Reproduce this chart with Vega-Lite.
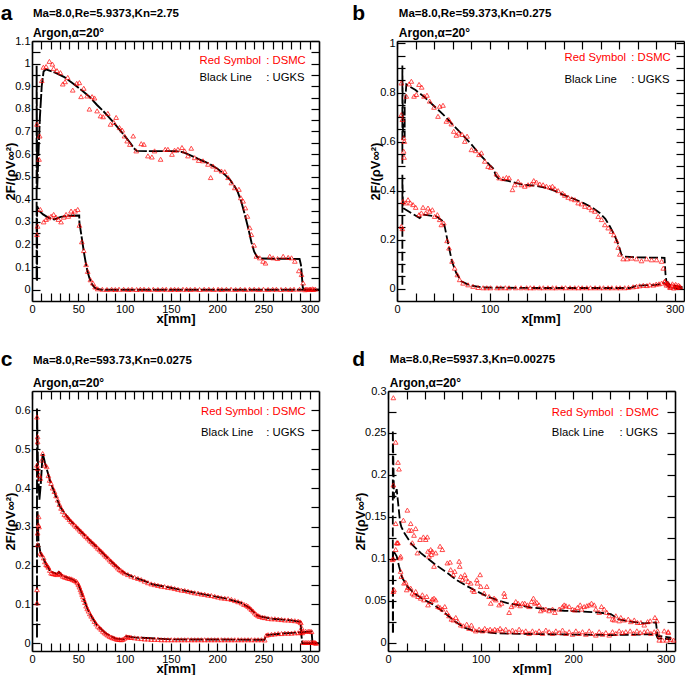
{
"$schema":"https://vega.github.io/schema/vega-lite/v6.json",
"background":"white",
"padding":{"left":0,"top":2,"right":0,"bottom":0},
"config":{
 "view":{"stroke":null},
 "font":"Liberation Sans",
 "axis":{"domainColor":"black","domainWidth":1.6,"tickColor":"black","tickWidth":1.2,"tickSize":-8,"labelPadding":10,"labelFont":"Liberation Sans","labelFontSize":11,"labelColor":"black","labelFlush":false,"labelOverlap":false,"grid":false,"titleFont":"Liberation Sans","titleFontSize":13,"titleFontWeight":"bold","titleColor":"black","titlePadding":-2},
 "axisLeft":{"labelPadding":10,"titlePadding":-3},
 "text":{"font":"Liberation Sans"}
},
"datasets":{
"aDu":[{"x":5.4,"y":0.732},{"x":8.3,"y":0.68},{"x":7.6,"y":0.577},{"x":10.5,"y":0.925},{"x":12.3,"y":0.984},{"x":15.2,"y":0.987},{"x":18.8,"y":1.01},{"x":22,"y":0.998},{"x":23.4,"y":0.979},{"x":27,"y":0.969},{"x":30.7,"y":0.96},{"x":33.2,"y":0.91},{"x":35.7,"y":0.92},{"x":38.6,"y":0.939},{"x":44,"y":0.883},{"x":48.3,"y":0.913},{"x":51.2,"y":0.916},{"x":53,"y":0.854},{"x":55.9,"y":0.891},{"x":59.5,"y":0.857},{"x":62,"y":0.799},{"x":64.9,"y":0.854},{"x":67.5,"y":0.848},{"x":70.3,"y":0.791},{"x":74,"y":0.769},{"x":76.8,"y":0.765},{"x":81.9,"y":0.78},{"x":84.8,"y":0.732},{"x":88.4,"y":0.74},{"x":90.9,"y":0.762},{"x":94.5,"y":0.717},{"x":97.4,"y":0.706},{"x":99.9,"y":0.68},{"x":102.8,"y":0.658},{"x":105.7,"y":0.643},{"x":109.3,"y":0.68},{"x":112.6,"y":0.614},{"x":118,"y":0.646},{"x":120.9,"y":0.643},{"x":125.2,"y":0.592},{"x":129.5,"y":0.587},{"x":132.4,"y":0.614},{"x":138.9,"y":0.577},{"x":143.9,"y":0.621},{"x":146.8,"y":0.621},{"x":151.2,"y":0.599},{"x":154,"y":0.617},{"x":157.6,"y":0.621},{"x":162,"y":0.629},{"x":164.9,"y":0.614},{"x":168.5,"y":0.592},{"x":172,"y":0.626},{"x":175.7,"y":0.584},{"x":180,"y":0.572},{"x":184.7,"y":0.57},{"x":190.1,"y":0.555},{"x":193,"y":0.496},{"x":195.5,"y":0.547},{"x":199.1,"y":0.533},{"x":204.6,"y":0.525},{"x":208.2,"y":0.522},{"x":211.8,"y":0.496},{"x":215.4,"y":0.473},{"x":219,"y":0.451},{"x":223.5,"y":0.444},{"x":225.5,"y":0.407},{"x":228,"y":0.392},{"x":230.5,"y":0.362},{"x":232.7,"y":0.325},{"x":235.2,"y":0.274},{"x":237,"y":0.244},{"x":239.9,"y":0.197},{"x":242.4,"y":0.148},{"x":246,"y":0.141},{"x":249.6,"y":0.126},{"x":252.2,"y":0.118},{"x":256.8,"y":0.148},{"x":260.5,"y":0.141},{"x":265.2,"y":0.138},{"x":271.3,"y":0.148},{"x":276.7,"y":0.143},{"x":280.3,"y":0.141},{"x":283.9,"y":0.126},{"x":288.2,"y":0.084},{"x":291.1,"y":0.067},{"x":292.9,"y":0.03},{"x":294.7,"y":0.0},{"x":298,"y":0.002},{"x":301,"y":0.003},{"x":304,"y":0.001}],
"aDl":[{"x":5.4,"y":0.244},{"x":6.1,"y":0.281},{"x":9,"y":0.355},{"x":12.6,"y":0.3},{"x":15.2,"y":0.311},{"x":17.7,"y":0.318},{"x":20.6,"y":0.325},{"x":23.4,"y":0.333},{"x":26,"y":0.321},{"x":28.5,"y":0.311},{"x":31.4,"y":0.3},{"x":34.3,"y":0.321},{"x":36.8,"y":0.333},{"x":39.3,"y":0.325},{"x":42.2,"y":0.348},{"x":44,"y":0.333},{"x":46.5,"y":0.348},{"x":49.4,"y":0.355},{"x":51.2,"y":0.285},{"x":53.8,"y":0.212},{"x":55.9,"y":0.173},{"x":58.4,"y":0.111},{"x":60.2,"y":0.081},{"x":63.1,"y":0.044},{"x":65.7,"y":0.03},{"x":68.2,"y":0.012},{"x":71,"y":0.004},{"x":76,"y":0.002},{"x":81,"y":0.001},{"x":86,"y":0.002},{"x":90,"y":0.001},{"x":94,"y":0.002},{"x":99,"y":0.002},{"x":104,"y":0.001},{"x":108,"y":0.002},{"x":113,"y":0.001},{"x":117,"y":0.002},{"x":121,"y":0.002},{"x":126,"y":0.001},{"x":131,"y":0.002},{"x":136,"y":0.001},{"x":141,"y":0.002},{"x":145,"y":0.002},{"x":150,"y":0.001},{"x":154,"y":0.002},{"x":158,"y":0.001},{"x":163,"y":0.002},{"x":167,"y":0.002},{"x":171,"y":0.001},{"x":176,"y":0.002},{"x":181,"y":0.001},{"x":186,"y":0.002},{"x":191,"y":0.002},{"x":196,"y":0.001},{"x":201,"y":0.002},{"x":205,"y":0.001},{"x":210,"y":0.002},{"x":215,"y":0.002},{"x":220,"y":0.001},{"x":225,"y":0.002},{"x":230,"y":0.001},{"x":235,"y":0.002},{"x":240,"y":0.002},{"x":245,"y":0.001},{"x":250,"y":0.002},{"x":255,"y":0.001},{"x":260,"y":0.002},{"x":264,"y":0.002},{"x":269,"y":0.001},{"x":274,"y":0.002},{"x":279,"y":0.001},{"x":283,"y":0.002},{"x":289,"y":0.002},{"x":296,"y":0.003},{"x":300,"y":0.002},{"x":303,"y":0.004},{"x":306,"y":0.003}],
"aUu":[{"x":5,"y":0.044},{"x":5,"y":0.99},{"x":5.6,"y":0.45},{"x":6.8,"y":0.58},{"x":8.5,"y":0.76},{"x":10.5,"y":0.9},{"x":12.5,"y":0.965},{"x":15,"y":0.975},{"x":25,"y":0.96},{"x":35,"y":0.94},{"x":45,"y":0.91},{"x":55,"y":0.878},{"x":63,"y":0.85},{"x":70,"y":0.818},{"x":77,"y":0.79},{"x":82,"y":0.768},{"x":88,"y":0.74},{"x":95,"y":0.706},{"x":101,"y":0.676},{"x":106,"y":0.65},{"x":110,"y":0.626},{"x":113,"y":0.614},{"x":125,"y":0.613},{"x":140,"y":0.613},{"x":155,"y":0.613},{"x":163,"y":0.608},{"x":170,"y":0.596},{"x":180,"y":0.578},{"x":190,"y":0.56},{"x":200,"y":0.536},{"x":208,"y":0.51},{"x":214,"y":0.486},{"x":219,"y":0.456},{"x":222,"y":0.435},{"x":226,"y":0.39},{"x":230,"y":0.33},{"x":234,"y":0.265},{"x":237,"y":0.21},{"x":240,"y":0.168},{"x":243,"y":0.146},{"x":247,"y":0.138},{"x":260,"y":0.137},{"x":275,"y":0.137},{"x":289,"y":0.136},{"x":290.5,"y":0.11},{"x":291.5,"y":0.06},{"x":292.5,"y":0.01},{"x":294,"y":0},{"x":310,"y":0}],
"aUl":[{"x":5.5,"y":0.04},{"x":5.5,"y":0.37},{"x":7.9,"y":0.348},{"x":12,"y":0.333},{"x":18,"y":0.318},{"x":24,"y":0.311},{"x":31,"y":0.322},{"x":40,"y":0.327},{"x":51,"y":0.328},{"x":51.2,"y":0.296},{"x":53,"y":0.25},{"x":54.8,"y":0.2},{"x":56.5,"y":0.155},{"x":58.4,"y":0.111},{"x":60,"y":0.08},{"x":62,"y":0.052},{"x":64,"y":0.03},{"x":65.7,"y":0.019},{"x":68,"y":0.008},{"x":71,"y":0.003},{"x":75,"y":0},{"x":310,"y":0}],
"bDu":[{"x":4.7,"y":0.839},{"x":4.7,"y":0.71},{"x":5.8,"y":0.69},{"x":7.2,"y":0.615},{"x":7.9,"y":0.601},{"x":7.2,"y":0.561},{"x":7.6,"y":0.536},{"x":10.1,"y":0.785},{"x":13,"y":0.835},{"x":15.5,"y":0.846},{"x":18.4,"y":0.785},{"x":20.9,"y":0.792},{"x":23.8,"y":0.833},{"x":26.7,"y":0.822},{"x":29.2,"y":0.785},{"x":32.4,"y":0.789},{"x":35.3,"y":0.765},{"x":40,"y":0.74},{"x":44.3,"y":0.703},{"x":46.1,"y":0.744},{"x":49.7,"y":0.748},{"x":53.3,"y":0.683},{"x":55.9,"y":0.69},{"x":58.7,"y":0.672},{"x":61.3,"y":0.642},{"x":64.1,"y":0.626},{"x":66.7,"y":0.635},{"x":70.3,"y":0.629},{"x":73.2,"y":0.601},{"x":75.7,"y":0.622},{"x":80.4,"y":0.567},{"x":85,"y":0.563},{"x":88.6,"y":0.547},{"x":91.2,"y":0.554},{"x":94.8,"y":0.52},{"x":98.4,"y":0.499},{"x":101.3,"y":0.495},{"x":107.4,"y":0.468},{"x":110.3,"y":0.452},{"x":114.6,"y":0.449},{"x":118.2,"y":0.454},{"x":121.1,"y":0.452},{"x":124.7,"y":0.404},{"x":127.2,"y":0.424},{"x":130.8,"y":0.438},{"x":134.4,"y":0.424},{"x":138,"y":0.418},{"x":141.6,"y":0.424},{"x":145.2,"y":0.427},{"x":147.7,"y":0.441},{"x":150.6,"y":0.435},{"x":154.2,"y":0.427},{"x":157.8,"y":0.424},{"x":161.4,"y":0.418},{"x":165,"y":0.414},{"x":167.9,"y":0.418},{"x":170.5,"y":0.408},{"x":174.1,"y":0.4},{"x":178.7,"y":0.39},{"x":181.3,"y":0.381},{"x":184.9,"y":0.373},{"x":188.5,"y":0.367},{"x":192.1,"y":0.363},{"x":195.7,"y":0.35},{"x":199.3,"y":0.346},{"x":202.9,"y":0.336},{"x":207.6,"y":0.332},{"x":210.1,"y":0.322},{"x":213.7,"y":0.316},{"x":217.3,"y":0.295},{"x":220.9,"y":0.282},{"x":224.5,"y":0.261},{"x":228.1,"y":0.248},{"x":231.7,"y":0.234},{"x":234.2,"y":0.22},{"x":237.1,"y":0.196},{"x":238.9,"y":0.169},{"x":240.7,"y":0.141},{"x":244.3,"y":0.122},{"x":248.6,"y":0.122},{"x":253.3,"y":0.125},{"x":258.7,"y":0.122},{"x":264.1,"y":0.114},{"x":269.5,"y":0.122},{"x":275,"y":0.118},{"x":280.4,"y":0.118},{"x":285.8,"y":0.112},{"x":287.6,"y":0.084},{"x":289.4,"y":0.03},{"x":291.2,"y":0.023},{"x":293,"y":0.015},{"x":295,"y":0.008},{"x":297.5,"y":0.02},{"x":300,"y":0.012},{"x":302,"y":0.005},{"x":304,"y":0.015},{"x":306,"y":0.008}],
"bDl":[{"x":4.7,"y":0.254},{"x":5.8,"y":0.245},{"x":6.5,"y":0.356},{"x":9.4,"y":0.35},{"x":11.9,"y":0.363},{"x":14.4,"y":0.35},{"x":17.3,"y":0.343},{"x":20.2,"y":0.332},{"x":23.8,"y":0.302},{"x":26.3,"y":0.309},{"x":28.1,"y":0.332},{"x":31,"y":0.309},{"x":33.5,"y":0.329},{"x":35.3,"y":0.316},{"x":38.2,"y":0.322},{"x":40.7,"y":0.295},{"x":43.6,"y":0.302},{"x":46.1,"y":0.282},{"x":47.9,"y":0.261},{"x":50.5,"y":0.268},{"x":54.1,"y":0.196},{"x":56.2,"y":0.166},{"x":59.5,"y":0.112},{"x":62.3,"y":0.084},{"x":65.2,"y":0.057},{"x":67.7,"y":0.037},{"x":71.4,"y":0.023},{"x":76.8,"y":0.016},{"x":82.2,"y":0.01},{"x":87.6,"y":0.005},{"x":93,"y":0.004},{"x":97,"y":0.004},{"x":101,"y":0.004},{"x":108,"y":0.004},{"x":112,"y":0.004},{"x":117,"y":0.004},{"x":121,"y":0.004},{"x":128,"y":0.004},{"x":134,"y":0.004},{"x":140,"y":0.004},{"x":144,"y":0.004},{"x":148,"y":0.004},{"x":154,"y":0.004},{"x":158,"y":0.004},{"x":163,"y":0.004},{"x":168,"y":0.004},{"x":172,"y":0.004},{"x":178,"y":0.004},{"x":182,"y":0.004},{"x":187,"y":0.004},{"x":192,"y":0.004},{"x":196,"y":0.004},{"x":200,"y":0.004},{"x":205,"y":0.004},{"x":209,"y":0.004},{"x":214,"y":0.004},{"x":219,"y":0.004},{"x":223,"y":0.004},{"x":228,"y":0.004},{"x":232,"y":0.004},{"x":237,"y":0.004},{"x":241,"y":0.004},{"x":246,"y":0.004},{"x":250,"y":0.005},{"x":255,"y":0.008},{"x":258.7,"y":0.01},{"x":262,"y":0.012},{"x":266,"y":0.014},{"x":270,"y":0.013},{"x":273,"y":0.016},{"x":277,"y":0.015},{"x":280,"y":0.019},{"x":283,"y":0.02},{"x":285.8,"y":0.023},{"x":289,"y":0.03},{"x":291,"y":0.015},{"x":293,"y":0.022},{"x":295,"y":0.005},{"x":297,"y":0.012},{"x":299,"y":0.003},{"x":301,"y":0.018},{"x":303,"y":0.006},{"x":305,"y":0.01}],
"bUu":[{"x":5.8,"y":0.51},{"x":5.8,"y":0.91},{"x":6.5,"y":0.62},{"x":8.3,"y":0.62},{"x":8.3,"y":0.74},{"x":10.1,"y":0.833},{"x":20,"y":0.81},{"x":30,"y":0.78},{"x":40,"y":0.745},{"x":50,"y":0.71},{"x":60,"y":0.67},{"x":70,"y":0.63},{"x":80,"y":0.59},{"x":90,"y":0.545},{"x":100,"y":0.505},{"x":104,"y":0.49},{"x":107,"y":0.46},{"x":111,"y":0.445},{"x":120,"y":0.44},{"x":136,"y":0.424},{"x":150,"y":0.42},{"x":161,"y":0.411},{"x":170,"y":0.4},{"x":179,"y":0.384},{"x":190,"y":0.368},{"x":201,"y":0.35},{"x":210,"y":0.333},{"x":219,"y":0.309},{"x":225,"y":0.285},{"x":230,"y":0.254},{"x":234,"y":0.225},{"x":237,"y":0.2},{"x":240,"y":0.17},{"x":242.5,"y":0.139},{"x":246,"y":0.131},{"x":260,"y":0.128},{"x":289,"y":0.126},{"x":290,"y":0.06},{"x":291,"y":0.03},{"x":295,"y":0.015},{"x":310,"y":0.005}],
"bUl":[{"x":5.8,"y":0.016},{"x":5.8,"y":0.465},{"x":6.5,"y":0.329},{"x":24.5,"y":0.288},{"x":28,"y":0.302},{"x":42.5,"y":0.295},{"x":49.7,"y":0.275},{"x":51.5,"y":0.254},{"x":55.1,"y":0.186},{"x":59.5,"y":0.11},{"x":64,"y":0.064},{"x":69.5,"y":0.03},{"x":78.6,"y":0.014},{"x":93,"y":0.005},{"x":150,"y":0.003},{"x":251.5,"y":0.003},{"x":258.7,"y":0.012},{"x":280,"y":0.016},{"x":289,"y":0.023},{"x":294.8,"y":0.005},{"x":310,"y":0}],
"cDu":[{"x":5.4,"y":0.583},{"x":6.1,"y":0.532},{"x":6.1,"y":0.519},{"x":5.4,"y":0.459},{"x":6.1,"y":0.45},{"x":7.9,"y":0.433},{"x":9,"y":0.425},{"x":10.5,"y":0.472},{"x":11.5,"y":0.489},{"x":14.1,"y":0.459},{"x":15.9,"y":0.455},{"x":17.7,"y":0.432},{"x":19,"y":0.42},{"x":20.6,"y":0.412},{"x":22.4,"y":0.4},{"x":24.2,"y":0.391},{"x":26,"y":0.38},{"x":27.8,"y":0.369},{"x":29.6,"y":0.358},{"x":31.4,"y":0.348},{"x":33.2,"y":0.34},{"x":35,"y":0.332},{"x":36.8,"y":0.328},{"x":38.6,"y":0.324},{"x":40.4,"y":0.319},{"x":42.2,"y":0.314},{"x":44,"y":0.31},{"x":45.8,"y":0.305},{"x":47.6,"y":0.301},{"x":49.4,"y":0.297},{"x":51.2,"y":0.292},{"x":53,"y":0.288},{"x":54.8,"y":0.284},{"x":56.6,"y":0.279},{"x":58.4,"y":0.275},{"x":60.2,"y":0.271},{"x":62,"y":0.266},{"x":63.9,"y":0.262},{"x":65.7,"y":0.258},{"x":67.5,"y":0.254},{"x":69.3,"y":0.25},{"x":71.1,"y":0.245},{"x":72.9,"y":0.241},{"x":74.7,"y":0.237},{"x":76.5,"y":0.233},{"x":78.3,"y":0.228},{"x":80.1,"y":0.224},{"x":81.9,"y":0.22},{"x":83.7,"y":0.215},{"x":85.5,"y":0.211},{"x":87.3,"y":0.207},{"x":89.1,"y":0.203},{"x":90.9,"y":0.199},{"x":92.7,"y":0.194},{"x":94.5,"y":0.19},{"x":96.3,"y":0.187},{"x":98.1,"y":0.184},{"x":99.9,"y":0.181},{"x":103.5,"y":0.177},{"x":107.1,"y":0.173},{"x":110.8,"y":0.17},{"x":114.4,"y":0.167},{"x":118,"y":0.164},{"x":121.6,"y":0.16},{"x":125.2,"y":0.156},{"x":128.8,"y":0.153},{"x":132.4,"y":0.151},{"x":136,"y":0.149},{"x":139.6,"y":0.147},{"x":143.2,"y":0.146},{"x":146.8,"y":0.144},{"x":150.4,"y":0.143},{"x":154,"y":0.141},{"x":157.7,"y":0.139},{"x":161.3,"y":0.137},{"x":164.9,"y":0.136},{"x":168.5,"y":0.134},{"x":172.1,"y":0.132},{"x":175.7,"y":0.13},{"x":179.3,"y":0.129},{"x":182.9,"y":0.127},{"x":186.5,"y":0.126},{"x":190.1,"y":0.124},{"x":193.7,"y":0.123},{"x":197.3,"y":0.121},{"x":200.9,"y":0.119},{"x":204.5,"y":0.117},{"x":208.2,"y":0.116},{"x":211.8,"y":0.115},{"x":215.4,"y":0.113},{"x":219,"y":0.11},{"x":222.6,"y":0.107},{"x":226.2,"y":0.104},{"x":229,"y":0.1},{"x":231.6,"y":0.098},{"x":233.4,"y":0.095},{"x":235.2,"y":0.091},{"x":237,"y":0.087},{"x":238.8,"y":0.083},{"x":240.6,"y":0.078},{"x":242.4,"y":0.074},{"x":244.2,"y":0.071},{"x":246,"y":0.069},{"x":249,"y":0.067},{"x":251.4,"y":0.066},{"x":255,"y":0.064},{"x":258.7,"y":0.063},{"x":262.3,"y":0.063},{"x":265.9,"y":0.062},{"x":269.5,"y":0.061},{"x":273.1,"y":0.06},{"x":276.7,"y":0.06},{"x":280.3,"y":0.059},{"x":283.9,"y":0.058},{"x":287.5,"y":0.057},{"x":289.5,"y":0.055},{"x":290.4,"y":0.053},{"x":291.2,"y":0.04},{"x":291.8,"y":0.027},{"x":292.9,"y":0.002},{"x":295,"y":0.002},{"x":297,"y":0.002},{"x":299,"y":0.002},{"x":301,"y":0.002},{"x":303,"y":0.002},{"x":305.6,"y":0.002}],
"cDl":[{"x":5.4,"y":0.104},{"x":5.4,"y":0.138},{"x":6.1,"y":0.254},{"x":6.1,"y":0.284},{"x":6.9,"y":0.305},{"x":7.2,"y":0.326},{"x":7.6,"y":0.3},{"x":9,"y":0.232},{"x":10.5,"y":0.228},{"x":12.6,"y":0.22},{"x":13.9,"y":0.21},{"x":15.2,"y":0.203},{"x":16.5,"y":0.2},{"x":17.7,"y":0.196},{"x":19.2,"y":0.188},{"x":20.6,"y":0.181},{"x":22,"y":0.18},{"x":23.4,"y":0.179},{"x":25.2,"y":0.178},{"x":27,"y":0.177},{"x":28.5,"y":0.18},{"x":29.6,"y":0.181},{"x":31.4,"y":0.177},{"x":33.2,"y":0.173},{"x":35,"y":0.171},{"x":36.8,"y":0.17},{"x":38.6,"y":0.168},{"x":40.4,"y":0.167},{"x":42.2,"y":0.166},{"x":44,"y":0.164},{"x":45.8,"y":0.162},{"x":47.6,"y":0.16},{"x":49,"y":0.156},{"x":50.1,"y":0.151},{"x":51.2,"y":0.145},{"x":52.3,"y":0.138},{"x":53.2,"y":0.132},{"x":54.1,"y":0.126},{"x":55,"y":0.12},{"x":55.9,"y":0.113},{"x":57.2,"y":0.105},{"x":58.4,"y":0.096},{"x":59.7,"y":0.089},{"x":61,"y":0.083},{"x":62.4,"y":0.076},{"x":63.9,"y":0.07},{"x":65.7,"y":0.063},{"x":67.5,"y":0.056},{"x":69.3,"y":0.05},{"x":71.1,"y":0.044},{"x":72.9,"y":0.04},{"x":74.7,"y":0.036},{"x":76.5,"y":0.031},{"x":78.3,"y":0.027},{"x":80.1,"y":0.024},{"x":81.9,"y":0.021},{"x":83.7,"y":0.018},{"x":85.5,"y":0.016},{"x":87.3,"y":0.014},{"x":89.1,"y":0.013},{"x":90.9,"y":0.011},{"x":92.7,"y":0.01},{"x":94.5,"y":0.01},{"x":96.3,"y":0.009},{"x":98.1,"y":0.01},{"x":99.9,"y":0.013},{"x":101.7,"y":0.017},{"x":103.5,"y":0.016},{"x":105.3,"y":0.016},{"x":107.1,"y":0.015},{"x":110.8,"y":0.014},{"x":114.4,"y":0.013},{"x":118,"y":0.012},{"x":121.6,"y":0.011},{"x":125.2,"y":0.011},{"x":128.8,"y":0.01},{"x":132.4,"y":0.01},{"x":136,"y":0.01},{"x":139.6,"y":0.009},{"x":143.2,"y":0.009},{"x":146.8,"y":0.009},{"x":150.4,"y":0.009},{"x":154,"y":0.009},{"x":157.7,"y":0.009},{"x":161.3,"y":0.009},{"x":164.9,"y":0.009},{"x":168.5,"y":0.009},{"x":172.1,"y":0.009},{"x":175.7,"y":0.009},{"x":179.3,"y":0.009},{"x":182.9,"y":0.009},{"x":186.5,"y":0.009},{"x":190.1,"y":0.009},{"x":193.7,"y":0.009},{"x":197.3,"y":0.009},{"x":200.9,"y":0.009},{"x":204.5,"y":0.009},{"x":208.2,"y":0.009},{"x":211.8,"y":0.009},{"x":215.4,"y":0.009},{"x":219,"y":0.009},{"x":222.6,"y":0.009},{"x":226.2,"y":0.009},{"x":229.8,"y":0.009},{"x":233.4,"y":0.009},{"x":237,"y":0.009},{"x":240.6,"y":0.009},{"x":244.2,"y":0.009},{"x":247.8,"y":0.009},{"x":251.4,"y":0.0085},{"x":253.2,"y":0.021},{"x":255,"y":0.022},{"x":258.7,"y":0.023},{"x":262.3,"y":0.024},{"x":265.9,"y":0.025},{"x":269.5,"y":0.025},{"x":273.1,"y":0.026},{"x":276.7,"y":0.026},{"x":280.3,"y":0.026},{"x":283.9,"y":0.027},{"x":287.5,"y":0.027},{"x":290.2,"y":0.028},{"x":292.9,"y":0.03},{"x":295.6,"y":0.031},{"x":298.3,"y":0.031},{"x":300.2,"y":0.031},{"x":302,"y":0.03},{"x":303.7,"y":0.002},{"x":305.5,"y":0.001},{"x":307,"y":0.0}],
"cUu":[{"x":5.4,"y":0.015},{"x":5.4,"y":0.605},{"x":6.5,"y":0.45},{"x":8,"y":0.37},{"x":9.5,"y":0.41},{"x":11.5,"y":0.49},{"x":14,"y":0.465},{"x":17,"y":0.44},{"x":20,"y":0.415},{"x":30,"y":0.353},{"x":40,"y":0.32},{"x":50,"y":0.295},{"x":60,"y":0.271},{"x":70,"y":0.248},{"x":80,"y":0.224},{"x":90,"y":0.201},{"x":100,"y":0.181},{"x":110,"y":0.17},{"x":120,"y":0.162},{"x":130,"y":0.152},{"x":150,"y":0.143},{"x":170,"y":0.133},{"x":190,"y":0.124},{"x":210,"y":0.115},{"x":226,"y":0.104},{"x":235,"y":0.091},{"x":242,"y":0.074},{"x":246,"y":0.069},{"x":260,"y":0.063},{"x":280,"y":0.059},{"x":290,"y":0.055},{"x":291,"y":0.02},{"x":292,"y":0},{"x":310,"y":0}],
"cUl":[{"x":6,"y":0.34},{"x":7,"y":0.26},{"x":9,"y":0.235},{"x":15,"y":0.205},{"x":20,"y":0.185},{"x":27,"y":0.178},{"x":29,"y":0.184},{"x":33,"y":0.174},{"x":45,"y":0.163},{"x":50,"y":0.152},{"x":55,"y":0.12},{"x":60,"y":0.088},{"x":65,"y":0.066},{"x":70,"y":0.047},{"x":80,"y":0.025},{"x":90,"y":0.012},{"x":99,"y":0.01},{"x":102,"y":0.018},{"x":110,"y":0.015},{"x":150,"y":0.01},{"x":251,"y":0.009},{"x":253,"y":0.021},{"x":270,"y":0.025},{"x":290,"y":0.028},{"x":302,"y":0.03},{"x":303,"y":0.0},{"x":310,"y":0}],
"dDu":[{"x":5.8,"y":0.292},{"x":5.8,"y":0.188},{"x":4.7,"y":0.099},{"x":5.8,"y":0.061},{"x":8.3,"y":0.239},{"x":10.8,"y":0.215},{"x":11.9,"y":0.207},{"x":8.3,"y":0.142},{"x":9.4,"y":0.119},{"x":10.8,"y":0.119},{"x":16.6,"y":0.146},{"x":20.9,"y":0.158},{"x":22.7,"y":0.134},{"x":24.5,"y":0.142},{"x":25.2,"y":0.134},{"x":26.3,"y":0.119},{"x":28.1,"y":0.128},{"x":29.9,"y":0.136},{"x":31.7,"y":0.107},{"x":34.6,"y":0.123},{"x":38.2,"y":0.126},{"x":40.7,"y":0.123},{"x":42.5,"y":0.126},{"x":43.2,"y":0.109},{"x":44.3,"y":0.103},{"x":46.1,"y":0.111},{"x":46.8,"y":0.105},{"x":47.9,"y":0.109},{"x":49.7,"y":0.091},{"x":51.5,"y":0.107},{"x":56.2,"y":0.115},{"x":58.7,"y":0.111},{"x":64.1,"y":0.095},{"x":67,"y":0.096},{"x":67.7,"y":0.087},{"x":70.6,"y":0.081},{"x":72.1,"y":0.085},{"x":76.8,"y":0.097},{"x":77.5,"y":0.091},{"x":78.6,"y":0.079},{"x":80.4,"y":0.075},{"x":82.9,"y":0.081},{"x":84,"y":0.077},{"x":86.5,"y":0.073},{"x":89.4,"y":0.071},{"x":91.2,"y":0.063},{"x":93,"y":0.061},{"x":95.9,"y":0.075},{"x":96.6,"y":0.071},{"x":99.5,"y":0.081},{"x":100.2,"y":0.067},{"x":103.8,"y":0.059},{"x":106.7,"y":0.067},{"x":109.2,"y":0.055},{"x":111,"y":0.047},{"x":114.6,"y":0.053},{"x":116.4,"y":0.051},{"x":120,"y":0.045},{"x":122.5,"y":0.047},{"x":125.4,"y":0.059},{"x":126.1,"y":0.055},{"x":130.8,"y":0.036},{"x":133.3,"y":0.043},{"x":136.2,"y":0.045},{"x":138,"y":0.049},{"x":140.5,"y":0.047},{"x":142.7,"y":0.044},{"x":145.2,"y":0.047},{"x":147.7,"y":0.047},{"x":150.6,"y":0.045},{"x":152.4,"y":0.043},{"x":155,"y":0.049},{"x":157.1,"y":0.053},{"x":158.6,"y":0.047},{"x":160.7,"y":0.048},{"x":163.2,"y":0.045},{"x":165,"y":0.038},{"x":167.9,"y":0.04},{"x":170.5,"y":0.04},{"x":174.1,"y":0.038},{"x":177.7,"y":0.04},{"x":180.2,"y":0.036},{"x":184.9,"y":0.04},{"x":188.5,"y":0.043},{"x":190.3,"y":0.045},{"x":192.1,"y":0.044},{"x":195.7,"y":0.043},{"x":199.3,"y":0.04},{"x":201.8,"y":0.039},{"x":204.7,"y":0.042},{"x":207.6,"y":0.045},{"x":209,"y":0.04},{"x":211.9,"y":0.043},{"x":214.8,"y":0.044},{"x":217.3,"y":0.045},{"x":219.8,"y":0.047},{"x":222.7,"y":0.045},{"x":224.5,"y":0.04},{"x":228.1,"y":0.036},{"x":230.6,"y":0.043},{"x":233.5,"y":0.04},{"x":236.4,"y":0.036},{"x":238.9,"y":0.032},{"x":242.5,"y":0.028},{"x":244.3,"y":0.027},{"x":246.1,"y":0.032},{"x":249.7,"y":0.026},{"x":251.5,"y":0.03},{"x":255.1,"y":0.027},{"x":259.5,"y":0.028},{"x":262.3,"y":0.025},{"x":266,"y":0.027},{"x":269.5,"y":0.024},{"x":273.2,"y":0.024},{"x":276.8,"y":0.021},{"x":280.4,"y":0.025},{"x":283.2,"y":0.026},{"x":288.3,"y":0.03},{"x":290.5,"y":0.026},{"x":291.2,"y":0.014},{"x":293,"y":0.003},{"x":296.6,"y":0.003},{"x":301.3,"y":0.003},{"x":302.7,"y":0.013},{"x":305.6,"y":0.004},{"x":308.5,"y":0.003}],
"dDl":[{"x":6.5,"y":0.063},{"x":5.8,"y":0.1},{"x":8.3,"y":0.111},{"x":10.1,"y":0.119},{"x":13,"y":0.101},{"x":13.7,"y":0.103},{"x":13.7,"y":0.085},{"x":14.4,"y":0.079},{"x":17.3,"y":0.071},{"x":19.1,"y":0.072},{"x":20.2,"y":0.063},{"x":21.6,"y":0.066},{"x":24.5,"y":0.065},{"x":26.3,"y":0.059},{"x":28.1,"y":0.057},{"x":29.9,"y":0.061},{"x":32.4,"y":0.055},{"x":35.3,"y":0.053},{"x":37.1,"y":0.057},{"x":38.9,"y":0.051},{"x":41.8,"y":0.055},{"x":43.2,"y":0.045},{"x":46.1,"y":0.049},{"x":47.9,"y":0.052},{"x":49.7,"y":0.053},{"x":51.5,"y":0.051},{"x":54.1,"y":0.043},{"x":56.2,"y":0.042},{"x":58.7,"y":0.04},{"x":61.3,"y":0.043},{"x":63.4,"y":0.036},{"x":65.9,"y":0.032},{"x":68.5,"y":0.028},{"x":70.6,"y":0.027},{"x":73.2,"y":0.03},{"x":75.7,"y":0.025},{"x":78.6,"y":0.021},{"x":81.4,"y":0.02},{"x":85,"y":0.022},{"x":87.6,"y":0.017},{"x":90.1,"y":0.021},{"x":92.3,"y":0.016},{"x":94.8,"y":0.014},{"x":98.4,"y":0.016},{"x":102,"y":0.014},{"x":104.5,"y":0.017},{"x":107.4,"y":0.015},{"x":110.3,"y":0.016},{"x":112.8,"y":0.014},{"x":115.3,"y":0.016},{"x":118.2,"y":0.015},{"x":121.1,"y":0.017},{"x":123.6,"y":0.014},{"x":127.2,"y":0.016},{"x":130.8,"y":0.013},{"x":134.4,"y":0.015},{"x":138,"y":0.013},{"x":141.6,"y":0.016},{"x":145.2,"y":0.013},{"x":148.8,"y":0.014},{"x":152.4,"y":0.011},{"x":156,"y":0.014},{"x":159.6,"y":0.012},{"x":163.2,"y":0.014},{"x":166.8,"y":0.011},{"x":170.5,"y":0.015},{"x":174.1,"y":0.013},{"x":177.7,"y":0.011},{"x":181.3,"y":0.014},{"x":184.9,"y":0.012},{"x":188.5,"y":0.015},{"x":192.1,"y":0.011},{"x":195.7,"y":0.013},{"x":199.3,"y":0.01},{"x":202.9,"y":0.014},{"x":206.5,"y":0.011},{"x":210.1,"y":0.013},{"x":213.7,"y":0.01},{"x":217.3,"y":0.014},{"x":220.9,"y":0.011},{"x":224.5,"y":0.009},{"x":228.1,"y":0.013},{"x":231.7,"y":0.01},{"x":235.3,"y":0.012},{"x":238.9,"y":0.009},{"x":242.5,"y":0.013},{"x":246.1,"y":0.011},{"x":249.7,"y":0.014},{"x":253.3,"y":0.012},{"x":256.9,"y":0.013},{"x":261.6,"y":0.014},{"x":265.2,"y":0.011},{"x":268.8,"y":0.014},{"x":272.4,"y":0.012},{"x":276.8,"y":0.013},{"x":280.4,"y":0.014},{"x":284,"y":0.011},{"x":287.6,"y":0.013},{"x":293,"y":0.008},{"x":298.4,"y":0.014},{"x":302.7,"y":0.012}],
"dUu":[{"x":5.2,"y":0.012},{"x":5.2,"y":0.253},{"x":6.5,"y":0.172},{"x":9.4,"y":0.183},{"x":13,"y":0.144},{"x":14.4,"y":0.138},{"x":18,"y":0.13},{"x":25,"y":0.118},{"x":35.3,"y":0.107},{"x":50,"y":0.094},{"x":64.1,"y":0.083},{"x":75,"y":0.074},{"x":85.8,"y":0.067},{"x":100,"y":0.059},{"x":107.4,"y":0.055},{"x":120,"y":0.05},{"x":129,"y":0.047},{"x":154.2,"y":0.042},{"x":190.3,"y":0.038},{"x":226.3,"y":0.036},{"x":240.7,"y":0.034},{"x":248.6,"y":0.028},{"x":262.3,"y":0.025},{"x":276.8,"y":0.023},{"x":289.4,"y":0.024},{"x":291.2,"y":0.008},{"x":305.6,"y":0.006}],
"dUl":[{"x":5.5,"y":0.012},{"x":5.5,"y":0.11},{"x":9.4,"y":0.103},{"x":11.9,"y":0.091},{"x":15.5,"y":0.077},{"x":20.9,"y":0.067},{"x":28.1,"y":0.059},{"x":38.9,"y":0.051},{"x":49.7,"y":0.045},{"x":60.5,"y":0.036},{"x":71.4,"y":0.026},{"x":82.2,"y":0.018},{"x":93,"y":0.014},{"x":118.2,"y":0.011},{"x":172,"y":0.01},{"x":244.3,"y":0.009},{"x":289.4,"y":0.01},{"x":291.5,"y":0.005},{"x":305.6,"y":0.004}]
},
"spacing":24,
"vconcat":[
{"hconcat":[
{"width":287,"height":260,
 "layer":[
  {"data":{"name":"aUu"},"mark":{"type":"line","color":"black","strokeWidth":1.9,"strokeDash":[14,2]},
   "encoding":{"x":{"field":"x","type":"quantitative","scale":{"domain":[0,310],"nice":false,"zero":false},"axis":{"orient":"bottom","title":"x[mm]","values":[0,10,20,30,40,50,60,70,80,90,100,110,120,130,140,150,160,170,180,190,200,210,220,230,240,250,260,270,280,290,300],"labelExpr":"datum.value % 50 === 0 ? toString(datum.value) : ''","encode":{"ticks":{"update":{"y2":{"signal":"datum.value % 50 === 0 ? -8 : -4"}}}}}},
    "y":{"field":"y","type":"quantitative","scale":{"domain":[-0.05,1.1],"nice":false,"zero":false},"axis":{"orient":"left","title":"2F/(ρV∞²)","values":[0,0.05,0.1,0.15,0.2,0.25,0.3,0.35,0.4,0.45,0.5,0.55,0.6,0.65,0.7,0.75,0.8,0.85,0.9,0.95,1,1.05,1.1],"labelExpr":"round(datum.value*100) % 10 === 0 ? toString(datum.value) : ''","encode":{"ticks":{"update":{"x2":{"signal":"round(datum.value*100) % 10 === 0 ? 8 : 4"}}}}}},
    "order":{"value":null}}},
  {"data":{"name":"aUl"},"mark":{"type":"line","color":"black","strokeWidth":1.9,"strokeDash":[14,2]},
   "encoding":{"x":{"field":"x","type":"quantitative","scale":{"domain":[0,310],"nice":false,"zero":false},"axis":{"orient":"top","title":null,"labels":false,"values":[0,10,20,30,40,50,60,70,80,90,100,110,120,130,140,150,160,170,180,190,200,210,220,230,240,250,260,270,280,290,300],"encode":{"ticks":{"update":{"y2":{"signal":"datum.value % 50 === 0 ? 8 : 4"}}}}}},
    "y":{"field":"y","type":"quantitative","scale":{"domain":[-0.05,1.1],"nice":false,"zero":false},"axis":{"orient":"right","title":null,"labels":false,"values":[0,0.05,0.1,0.15,0.2,0.25,0.3,0.35,0.4,0.45,0.5,0.55,0.6,0.65,0.7,0.75,0.8,0.85,0.9,0.95,1,1.05,1.1],"encode":{"ticks":{"update":{"x2":{"signal":"round(datum.value*100) % 10 === 0 ? -8 : -4"}}}}}},
    "order":{"value":null}}},
  {"data":{"name":"aDu"},"mark":{"type":"point","shape":"triangle-up","filled":false,"color":"#ff0000","size":22,"strokeWidth":1},
   "encoding":{"x":{"field":"x","type":"quantitative","scale":{"domain":[0,310],"nice":false,"zero":false},"axis":null},"y":{"field":"y","type":"quantitative","scale":{"domain":[-0.05,1.1],"nice":false,"zero":false},"axis":null}}},
  {"data":{"name":"aDl"},"mark":{"type":"point","shape":"triangle-up","filled":false,"color":"#ff0000","size":22,"strokeWidth":1},
   "encoding":{"x":{"field":"x","type":"quantitative","scale":{"domain":[0,310],"nice":false,"zero":false},"axis":null},"y":{"field":"y","type":"quantitative","scale":{"domain":[-0.05,1.1],"nice":false,"zero":false},"axis":null}}},
  {"data":{"values":[{}]},"mark":{"type":"text","text":"a","fontSize":21,"fontWeight":"bold","align":"center","baseline":"alphabetic","color":"black"},
   "encoding":{"x":{"datum":-27.4,"type":"quantitative","scale":{"domain":[0,310],"nice":false,"zero":false},"axis":null},"y":{"datum":1.195,"type":"quantitative","scale":{"domain":[-0.05,1.1],"nice":false,"zero":false},"axis":null}}},
  {"data":{"values":[{}]},"mark":{"type":"text","text":"Ma=8.0,Re=5.9373,Kn=2.75","fontSize":11.5,"fontWeight":"bold","align":"left","baseline":"alphabetic","color":"black"},
   "encoding":{"x":{"datum":1,"type":"quantitative","scale":{"domain":[0,310],"nice":false,"zero":false},"axis":null},"y":{"datum":1.206,"type":"quantitative","scale":{"domain":[-0.05,1.1],"nice":false,"zero":false},"axis":null}}},
  {"data":{"values":[{}]},"mark":{"type":"text","text":"Argon,α=20°","fontSize":12,"fontWeight":"bold","align":"left","baseline":"alphabetic","color":"black"},
   "encoding":{"x":{"datum":1,"type":"quantitative","scale":{"domain":[0,310],"nice":false,"zero":false},"axis":null},"y":{"datum":1.118,"type":"quantitative","scale":{"domain":[-0.05,1.1],"nice":false,"zero":false},"axis":null}}},
  {"data":{"values":[{}]},"mark":{"type":"text","text":"Red Symbol","fontSize":11.3,"align":"left","baseline":"middle","color":"#ff0000"},
   "encoding":{"x":{"datum":181,"type":"quantitative","scale":{"domain":[0,310],"nice":false,"zero":false},"axis":null},"y":{"datum":1.01,"type":"quantitative","scale":{"domain":[-0.05,1.1],"nice":false,"zero":false},"axis":null}}},
  {"data":{"values":[{}]},"mark":{"type":"text","text":": DSMC","fontSize":11.3,"align":"left","baseline":"middle","color":"#ff0000"},
   "encoding":{"x":{"datum":253,"type":"quantitative","scale":{"domain":[0,310],"nice":false,"zero":false},"axis":null},"y":{"datum":1.01,"type":"quantitative","scale":{"domain":[-0.05,1.1],"nice":false,"zero":false},"axis":null}}},
  {"data":{"values":[{}]},"mark":{"type":"text","text":"Black Line","fontSize":11.3,"align":"left","baseline":"middle","color":"black"},
   "encoding":{"x":{"datum":181,"type":"quantitative","scale":{"domain":[0,310],"nice":false,"zero":false},"axis":null},"y":{"datum":0.936,"type":"quantitative","scale":{"domain":[-0.05,1.1],"nice":false,"zero":false},"axis":null}}},
  {"data":{"values":[{}]},"mark":{"type":"text","text":": UGKS","fontSize":11.3,"align":"left","baseline":"middle","color":"black"},
   "encoding":{"x":{"datum":253,"type":"quantitative","scale":{"domain":[0,310],"nice":false,"zero":false},"axis":null},"y":{"datum":0.936,"type":"quantitative","scale":{"domain":[-0.05,1.1],"nice":false,"zero":false},"axis":null}}}
 ]},
{"width":287,"height":260,
 "layer":[
  {"data":{"name":"bUu"},"mark":{"type":"line","color":"black","strokeWidth":1.8,"strokeDash":[9,3]},
   "encoding":{"x":{"field":"x","type":"quantitative","scale":{"domain":[0,310],"nice":false,"zero":false},"axis":{"orient":"bottom","title":"x[mm]","values":[0,20,40,60,80,100,120,140,160,180,200,220,240,260,280,300],"labelExpr":"datum.value % 100 === 0 ? toString(datum.value) : ''","encode":{"ticks":{"update":{"y2":{"signal":"datum.value % 100 === 0 ? -8 : -4"}}}}}},
    "y":{"field":"y","type":"quantitative","scale":{"domain":[-0.05,1.01],"nice":false,"zero":false},"axis":{"orient":"left","title":"2F/(ρV∞²)","values":[0,0.05,0.1,0.15,0.2,0.25,0.3,0.35,0.4,0.45,0.5,0.55,0.6,0.65,0.7,0.75,0.8,0.85,0.9,0.95,1],"labelExpr":"round(datum.value*100) % 20 === 0 ? toString(datum.value) : ''","encode":{"ticks":{"update":{"x2":{"signal":"round(datum.value*100) % 20 === 0 ? 8 : 4"}}}}}},
    "order":{"value":null}}},
  {"data":{"name":"bUl"},"mark":{"type":"line","color":"black","strokeWidth":1.8,"strokeDash":[9,3]},
   "encoding":{"x":{"field":"x","type":"quantitative","scale":{"domain":[0,310],"nice":false,"zero":false},"axis":{"orient":"top","title":null,"labels":false,"values":[0,20,40,60,80,100,120,140,160,180,200,220,240,260,280,300],"encode":{"ticks":{"update":{"y2":{"signal":"datum.value % 100 === 0 ? 8 : 4"}}}}}},
    "y":{"field":"y","type":"quantitative","scale":{"domain":[-0.05,1.01],"nice":false,"zero":false},"axis":{"orient":"right","title":null,"labels":false,"values":[0,0.05,0.1,0.15,0.2,0.25,0.3,0.35,0.4,0.45,0.5,0.55,0.6,0.65,0.7,0.75,0.8,0.85,0.9,0.95,1],"encode":{"ticks":{"update":{"x2":{"signal":"round(datum.value*100) % 20 === 0 ? -8 : -4"}}}}}},
    "order":{"value":null}}},
  {"data":{"name":"bDu"},"mark":{"type":"point","shape":"triangle-up","filled":false,"color":"#ff0000","size":22,"strokeWidth":1},
   "encoding":{"x":{"field":"x","type":"quantitative","scale":{"domain":[0,310],"nice":false,"zero":false},"axis":null},"y":{"field":"y","type":"quantitative","scale":{"domain":[-0.05,1.01],"nice":false,"zero":false},"axis":null}}},
  {"data":{"name":"bDl"},"mark":{"type":"point","shape":"triangle-up","filled":false,"color":"#ff0000","size":22,"strokeWidth":1},
   "encoding":{"x":{"field":"x","type":"quantitative","scale":{"domain":[0,310],"nice":false,"zero":false},"axis":null},"y":{"field":"y","type":"quantitative","scale":{"domain":[-0.05,1.01],"nice":false,"zero":false},"axis":null}}},
  {"data":{"values":[{}]},"mark":{"type":"text","text":"b","fontSize":21,"fontWeight":"bold","align":"center","baseline":"alphabetic","color":"black"},
   "encoding":{"x":{"datum":-41.3,"type":"quantitative","scale":{"domain":[0,310],"nice":false,"zero":false},"axis":null},"y":{"datum":1.096,"type":"quantitative","scale":{"domain":[-0.05,1.01],"nice":false,"zero":false},"axis":null}}},
  {"data":{"values":[{}]},"mark":{"type":"text","text":"Ma=8.0,Re=59.373,Kn=0.275","fontSize":11.5,"fontWeight":"bold","align":"left","baseline":"alphabetic","color":"black"},
   "encoding":{"x":{"datum":2,"type":"quantitative","scale":{"domain":[0,310],"nice":false,"zero":false},"axis":null},"y":{"datum":1.108,"type":"quantitative","scale":{"domain":[-0.05,1.01],"nice":false,"zero":false},"axis":null}}},
  {"data":{"values":[{}]},"mark":{"type":"text","text":"Argon,α=20°","fontSize":12,"fontWeight":"bold","align":"left","baseline":"alphabetic","color":"black"},
   "encoding":{"x":{"datum":2,"type":"quantitative","scale":{"domain":[0,310],"nice":false,"zero":false},"axis":null},"y":{"datum":1.026,"type":"quantitative","scale":{"domain":[-0.05,1.01],"nice":false,"zero":false},"axis":null}}},
  {"data":{"values":[{}]},"mark":{"type":"text","text":"Red Symbol","fontSize":11.3,"align":"left","baseline":"middle","color":"#ff0000"},
   "encoding":{"x":{"datum":181,"type":"quantitative","scale":{"domain":[0,310],"nice":false,"zero":false},"axis":null},"y":{"datum":0.939,"type":"quantitative","scale":{"domain":[-0.05,1.01],"nice":false,"zero":false},"axis":null}}},
  {"data":{"values":[{}]},"mark":{"type":"text","text":": DSMC","fontSize":11.3,"align":"left","baseline":"middle","color":"#ff0000"},
   "encoding":{"x":{"datum":253,"type":"quantitative","scale":{"domain":[0,310],"nice":false,"zero":false},"axis":null},"y":{"datum":0.939,"type":"quantitative","scale":{"domain":[-0.05,1.01],"nice":false,"zero":false},"axis":null}}},
  {"data":{"values":[{}]},"mark":{"type":"text","text":"Black Line","fontSize":11.3,"align":"left","baseline":"middle","color":"black"},
   "encoding":{"x":{"datum":181,"type":"quantitative","scale":{"domain":[0,310],"nice":false,"zero":false},"axis":null},"y":{"datum":0.849,"type":"quantitative","scale":{"domain":[-0.05,1.01],"nice":false,"zero":false},"axis":null}}},
  {"data":{"values":[{}]},"mark":{"type":"text","text":": UGKS","fontSize":11.3,"align":"left","baseline":"middle","color":"black"},
   "encoding":{"x":{"datum":253,"type":"quantitative","scale":{"domain":[0,310],"nice":false,"zero":false},"axis":null},"y":{"datum":0.849,"type":"quantitative","scale":{"domain":[-0.05,1.01],"nice":false,"zero":false},"axis":null}}}
 ]}
],"spacing":29},
{"hconcat":[
{"width":287,"height":260,
 "layer":[
  {"data":{"name":"cUu"},"mark":{"type":"line","color":"black","strokeWidth":1.9,"strokeDash":[14,2]},
   "encoding":{"x":{"field":"x","type":"quantitative","scale":{"domain":[0,310],"nice":false,"zero":false},"axis":{"orient":"bottom","title":"x[mm]","values":[0,10,20,30,40,50,60,70,80,90,100,110,120,130,140,150,160,170,180,190,200,210,220,230,240,250,260,270,280,290,300],"labelExpr":"datum.value % 50 === 0 ? toString(datum.value) : ''","encode":{"ticks":{"update":{"y2":{"signal":"datum.value % 50 === 0 ? -8 : -4"}}}}}},
    "y":{"field":"y","type":"quantitative","scale":{"domain":[-0.02,0.65],"nice":false,"zero":false},"axis":{"orient":"left","title":"2F/(ρV∞²)","values":[0,0.05,0.1,0.15,0.2,0.25,0.3,0.35,0.4,0.45,0.5,0.55,0.6],"labelExpr":"round(datum.value*100) % 10 === 0 ? toString(datum.value) : ''","encode":{"ticks":{"update":{"x2":{"signal":"round(datum.value*100) % 10 === 0 ? 8 : 4"}}}}}},
    "order":{"value":null}}},
  {"data":{"name":"cUl"},"mark":{"type":"line","color":"black","strokeWidth":1.9,"strokeDash":[14,2]},
   "encoding":{"x":{"field":"x","type":"quantitative","scale":{"domain":[0,310],"nice":false,"zero":false},"axis":{"orient":"top","title":null,"labels":false,"values":[0,10,20,30,40,50,60,70,80,90,100,110,120,130,140,150,160,170,180,190,200,210,220,230,240,250,260,270,280,290,300],"encode":{"ticks":{"update":{"y2":{"signal":"datum.value % 50 === 0 ? 8 : 4"}}}}}},
    "y":{"field":"y","type":"quantitative","scale":{"domain":[-0.02,0.65],"nice":false,"zero":false},"axis":{"orient":"right","title":null,"labels":false,"values":[0,0.05,0.1,0.15,0.2,0.25,0.3,0.35,0.4,0.45,0.5,0.55,0.6],"encode":{"ticks":{"update":{"x2":{"signal":"round(datum.value*100) % 10 === 0 ? -8 : -4"}}}}}},
    "order":{"value":null}}},
  {"data":{"name":"cDu"},"mark":{"type":"point","shape":"triangle-up","filled":false,"color":"#ff0000","size":22,"strokeWidth":1},
   "encoding":{"x":{"field":"x","type":"quantitative","scale":{"domain":[0,310],"nice":false,"zero":false},"axis":null},"y":{"field":"y","type":"quantitative","scale":{"domain":[-0.02,0.65],"nice":false,"zero":false},"axis":null}}},
  {"data":{"name":"cDl"},"mark":{"type":"point","shape":"triangle-up","filled":false,"color":"#ff0000","size":22,"strokeWidth":1},
   "encoding":{"x":{"field":"x","type":"quantitative","scale":{"domain":[0,310],"nice":false,"zero":false},"axis":null},"y":{"field":"y","type":"quantitative","scale":{"domain":[-0.02,0.65],"nice":false,"zero":false},"axis":null}}},
  {"data":{"values":[{}]},"mark":{"type":"text","text":"c","fontSize":21,"fontWeight":"bold","align":"center","baseline":"alphabetic","color":"black"},
   "encoding":{"x":{"datum":-27.4,"type":"quantitative","scale":{"domain":[0,310],"nice":false,"zero":false},"axis":null},"y":{"datum":0.7144,"type":"quantitative","scale":{"domain":[-0.02,0.65],"nice":false,"zero":false},"axis":null}}},
  {"data":{"values":[{}]},"mark":{"type":"text","text":"Ma=8.0,Re=593.73,Kn=0.0275","fontSize":11.5,"fontWeight":"bold","align":"left","baseline":"alphabetic","color":"black"},
   "encoding":{"x":{"datum":1,"type":"quantitative","scale":{"domain":[0,310],"nice":false,"zero":false},"axis":null},"y":{"datum":0.7196,"type":"quantitative","scale":{"domain":[-0.02,0.65],"nice":false,"zero":false},"axis":null}}},
  {"data":{"values":[{}]},"mark":{"type":"text","text":"Argon,α=20°","fontSize":12,"fontWeight":"bold","align":"left","baseline":"alphabetic","color":"black"},
   "encoding":{"x":{"datum":1,"type":"quantitative","scale":{"domain":[0,310],"nice":false,"zero":false},"axis":null},"y":{"datum":0.6603,"type":"quantitative","scale":{"domain":[-0.02,0.65],"nice":false,"zero":false},"axis":null}}},
  {"data":{"values":[{}]},"mark":{"type":"text","text":"Red Symbol","fontSize":11.3,"align":"left","baseline":"middle","color":"#ff0000"},
   "encoding":{"x":{"datum":182.6,"type":"quantitative","scale":{"domain":[0,310],"nice":false,"zero":false},"axis":null},"y":{"datum":0.595,"type":"quantitative","scale":{"domain":[-0.02,0.65],"nice":false,"zero":false},"axis":null}}},
  {"data":{"values":[{}]},"mark":{"type":"text","text":": DSMC","fontSize":11.3,"align":"left","baseline":"middle","color":"#ff0000"},
   "encoding":{"x":{"datum":253,"type":"quantitative","scale":{"domain":[0,310],"nice":false,"zero":false},"axis":null},"y":{"datum":0.595,"type":"quantitative","scale":{"domain":[-0.02,0.65],"nice":false,"zero":false},"axis":null}}},
  {"data":{"values":[{}]},"mark":{"type":"text","text":"Black Line","fontSize":11.3,"align":"left","baseline":"middle","color":"black"},
   "encoding":{"x":{"datum":182.6,"type":"quantitative","scale":{"domain":[0,310],"nice":false,"zero":false},"axis":null},"y":{"datum":0.541,"type":"quantitative","scale":{"domain":[-0.02,0.65],"nice":false,"zero":false},"axis":null}}},
  {"data":{"values":[{}]},"mark":{"type":"text","text":": UGKS","fontSize":11.3,"align":"left","baseline":"middle","color":"black"},
   "encoding":{"x":{"datum":253,"type":"quantitative","scale":{"domain":[0,310],"nice":false,"zero":false},"axis":null},"y":{"datum":0.541,"type":"quantitative","scale":{"domain":[-0.02,0.65],"nice":false,"zero":false},"axis":null}}}
 ]},
{"width":287,"height":260,
 "layer":[
  {"data":{"name":"dUu"},"mark":{"type":"line","color":"black","strokeWidth":1.8,"strokeDash":[9,3]},
   "encoding":{"x":{"field":"x","type":"quantitative","scale":{"domain":[0,310],"nice":false,"zero":false},"axis":{"orient":"bottom","title":"x[mm]","values":[0,20,40,60,80,100,120,140,160,180,200,220,240,260,280,300],"labelExpr":"datum.value % 100 === 0 ? toString(datum.value) : ''","encode":{"ticks":{"update":{"y2":{"signal":"datum.value % 100 === 0 ? -8 : -4"}}}}}},
    "y":{"field":"y","type":"quantitative","scale":{"domain":[-0.01,0.3],"nice":false,"zero":false},"axis":{"orient":"left","title":"2F/(ρV∞²)","values":[0,0.025,0.05,0.075,0.1,0.125,0.15,0.175,0.2,0.225,0.25,0.275,0.3],"labelExpr":"round(datum.value*1000) % 50 === 0 ? toString(datum.value) : ''","encode":{"ticks":{"update":{"x2":{"signal":"round(datum.value*1000) % 50 === 0 ? 8 : 4"}}}}}},
    "order":{"value":null}}},
  {"data":{"name":"dUl"},"mark":{"type":"line","color":"black","strokeWidth":1.8,"strokeDash":[9,3]},
   "encoding":{"x":{"field":"x","type":"quantitative","scale":{"domain":[0,310],"nice":false,"zero":false},"axis":{"orient":"top","title":null,"labels":false,"values":[0,20,40,60,80,100,120,140,160,180,200,220,240,260,280,300],"encode":{"ticks":{"update":{"y2":{"signal":"datum.value % 100 === 0 ? 8 : 4"}}}}}},
    "y":{"field":"y","type":"quantitative","scale":{"domain":[-0.01,0.3],"nice":false,"zero":false},"axis":{"orient":"right","title":null,"labels":false,"values":[0,0.025,0.05,0.075,0.1,0.125,0.15,0.175,0.2,0.225,0.25,0.275,0.3],"encode":{"ticks":{"update":{"x2":{"signal":"round(datum.value*1000) % 50 === 0 ? -8 : -4"}}}}}},
    "order":{"value":null}}},
  {"data":{"name":"dDu"},"mark":{"type":"point","shape":"triangle-up","filled":false,"color":"#ff0000","size":22,"strokeWidth":1},
   "encoding":{"x":{"field":"x","type":"quantitative","scale":{"domain":[0,310],"nice":false,"zero":false},"axis":null},"y":{"field":"y","type":"quantitative","scale":{"domain":[-0.01,0.3],"nice":false,"zero":false},"axis":null}}},
  {"data":{"name":"dDl"},"mark":{"type":"point","shape":"triangle-up","filled":false,"color":"#ff0000","size":22,"strokeWidth":1},
   "encoding":{"x":{"field":"x","type":"quantitative","scale":{"domain":[0,310],"nice":false,"zero":false},"axis":null},"y":{"field":"y","type":"quantitative","scale":{"domain":[-0.01,0.3],"nice":false,"zero":false},"axis":null}}},
  {"data":{"values":[{}]},"mark":{"type":"text","text":"d","fontSize":21,"fontWeight":"bold","align":"center","baseline":"alphabetic","color":"black"},
   "encoding":{"x":{"datum":-31.6,"type":"quantitative","scale":{"domain":[0,310],"nice":false,"zero":false},"axis":null},"y":{"datum":0.3298,"type":"quantitative","scale":{"domain":[-0.01,0.3],"nice":false,"zero":false},"axis":null}}},
  {"data":{"values":[{}]},"mark":{"type":"text","text":"Ma=8.0,Re=5937.3,Kn=0.00275","fontSize":11.5,"fontWeight":"bold","align":"left","baseline":"alphabetic","color":"black"},
   "encoding":{"x":{"datum":2,"type":"quantitative","scale":{"domain":[0,310],"nice":false,"zero":false},"axis":null},"y":{"datum":0.3334,"type":"quantitative","scale":{"domain":[-0.01,0.3],"nice":false,"zero":false},"axis":null}}},
  {"data":{"values":[{}]},"mark":{"type":"text","text":"Argon,α=20°","fontSize":12,"fontWeight":"bold","align":"left","baseline":"alphabetic","color":"black"},
   "encoding":{"x":{"datum":2,"type":"quantitative","scale":{"domain":[0,310],"nice":false,"zero":false},"axis":null},"y":{"datum":0.3048,"type":"quantitative","scale":{"domain":[-0.01,0.3],"nice":false,"zero":false},"axis":null}}},
  {"data":{"values":[{}]},"mark":{"type":"text","text":"Red Symbol","fontSize":11.3,"align":"left","baseline":"middle","color":"#ff0000"},
   "encoding":{"x":{"datum":177,"type":"quantitative","scale":{"domain":[0,310],"nice":false,"zero":false},"axis":null},"y":{"datum":0.2737,"type":"quantitative","scale":{"domain":[-0.01,0.3],"nice":false,"zero":false},"axis":null}}},
  {"data":{"values":[{}]},"mark":{"type":"text","text":": DSMC","fontSize":11.3,"align":"left","baseline":"middle","color":"#ff0000"},
   "encoding":{"x":{"datum":250,"type":"quantitative","scale":{"domain":[0,310],"nice":false,"zero":false},"axis":null},"y":{"datum":0.2737,"type":"quantitative","scale":{"domain":[-0.01,0.3],"nice":false,"zero":false},"axis":null}}},
  {"data":{"values":[{}]},"mark":{"type":"text","text":"Black Line","fontSize":11.3,"align":"left","baseline":"middle","color":"black"},
   "encoding":{"x":{"datum":177,"type":"quantitative","scale":{"domain":[0,310],"nice":false,"zero":false},"axis":null},"y":{"datum":0.25,"type":"quantitative","scale":{"domain":[-0.01,0.3],"nice":false,"zero":false},"axis":null}}},
  {"data":{"values":[{}]},"mark":{"type":"text","text":": UGKS","fontSize":11.3,"align":"left","baseline":"middle","color":"black"},
   "encoding":{"x":{"datum":250,"type":"quantitative","scale":{"domain":[0,310],"nice":false,"zero":false},"axis":null},"y":{"datum":0.25,"type":"quantitative","scale":{"domain":[-0.01,0.3],"nice":false,"zero":false},"axis":null}}}
 ]}
],"spacing":29}
]
}
